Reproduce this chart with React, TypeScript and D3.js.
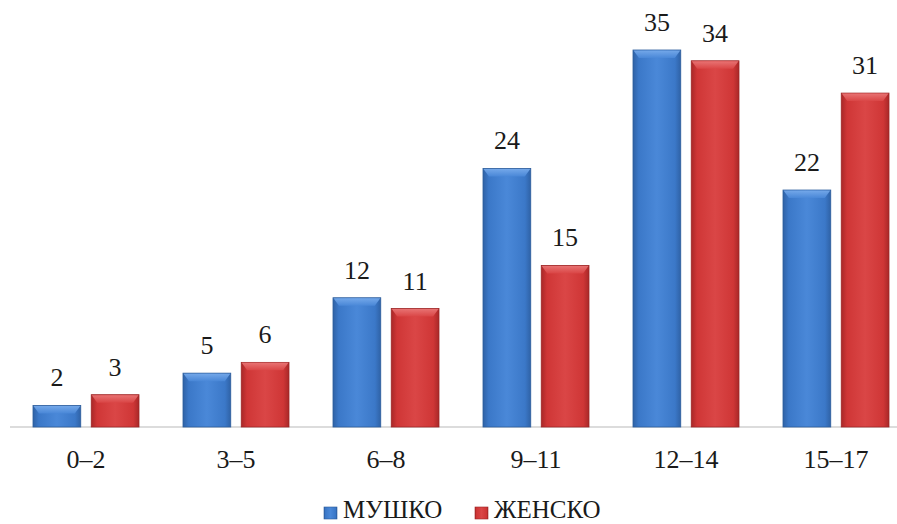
import React from "react";
import * as d3 from "d3";

const categories = ["0–2", "3–5", "6–8", "9–11", "12–14", "15–17"];
const seriesNames = ["МУШКО", "ЖЕНСКО"];
const maleValues = [2, 5, 12, 24, 35, 22];
const femaleValues = [3, 6, 11, 15, 34, 31];

const W = 897;
const H = 524;
const FONT = "'Liberation Serif', 'Times New Roman', serif";

const palettes = [
  { id: "blue", edge: "#2f62a6", mid: "#3b78c8", light: "#4a88d8", top: "#79acec", stroke: "#2c5d9c" },
  { id: "red", edge: "#a82828", mid: "#cf3636", light: "#da4646", top: "#ea7878", stroke: "#9e2626" },
];

export default function App() {
  const baseY = 427;
  const y = d3.scaleLinear().domain([0, 35]).range([baseY, 50]);
  const x0 = d3.scaleBand<string>().domain(categories).range([11, 911]).padding(0);
  const x1 = d3.scaleBand<string>().domain(seriesNames).range([22, 128]).paddingInner(0.18).paddingOuter(0);
  const data = [maleValues, femaleValues];

  return (
    <svg width={W} height={H} style={{ display: "block", position: "absolute", left: 0, top: 0 }}>
      <defs>
        {palettes.map((p) => (
          <React.Fragment key={p.id}>
            <linearGradient id={`g-${p.id}`} x1="0" x2="1" y1="0" y2="0">
              <stop offset="0" stopColor={p.edge} />
              <stop offset="0.12" stopColor={p.mid} />
              <stop offset="0.5" stopColor={p.light} />
              <stop offset="0.88" stopColor={p.mid} />
              <stop offset="1" stopColor={p.edge} />
            </linearGradient>
            <linearGradient id={`gt-${p.id}`} x1="0" x2="0" y1="0" y2="1">
              <stop offset="0" stopColor={p.top} />
              <stop offset="1" stopColor={p.light} />
            </linearGradient>
          </React.Fragment>
        ))}
      </defs>
      <rect width={W} height={H} fill="#ffffff" />
      <line x1={10} x2={W} y1={baseY} y2={baseY} stroke="#d0d0d0" strokeWidth={1.5} />
      {categories.map((c, i) => (
        <g key={c} transform={`translate(${x0(c)},0)`}>
          {seriesNames.map((s, k) => {
            const v = data[k][i];
            const p = palettes[k];
            const bx = x1(s)!;
            const bw = x1.bandwidth();
            const top = y(v);
            const h = baseY - top;
            const bev = Math.min(8, h / 2);
            return (
              <g key={s}>
                <rect x={bx} y={top} width={bw} height={h} fill={`url(#g-${p.id})`} stroke={p.stroke} strokeWidth={0.8} />
                <path
                  d={`M${bx + 0.5},${top + 0.5} L${bx + bw - 0.5},${top + 0.5} L${bx + bw - 6},${top + bev} L${bx + 6},${top + bev} Z`}
                  fill={`url(#gt-${p.id})`}
                  opacity={0.9}
                />
                <text x={bx + bw / 2} y={top - 19} textAnchor="middle" fontFamily={FONT} fontSize={26} fill="#1a1a1a">
                  {v}
                </text>
              </g>
            );
          })}
          <text x={x0.bandwidth() / 2} y={468} textAnchor="middle" fontFamily={FONT} fontSize={26} fill="#1a1a1a">
            {c}
          </text>
        </g>
      ))}
      <g>
        {seriesNames.map((s, k) => {
          const p = palettes[k];
          const lx = [324, 475][k];
          return (
            <g key={s}>
              <rect x={lx} y={507} width={13} height={12} fill={`url(#g-${p.id})`} stroke={p.stroke} strokeWidth={0.6} />
              <text x={lx + 19} y={518} fontFamily={FONT} fontSize={25} fill="#1a1a1a">
                {s}
              </text>
            </g>
          );
        })}
      </g>
    </svg>
  );
}
